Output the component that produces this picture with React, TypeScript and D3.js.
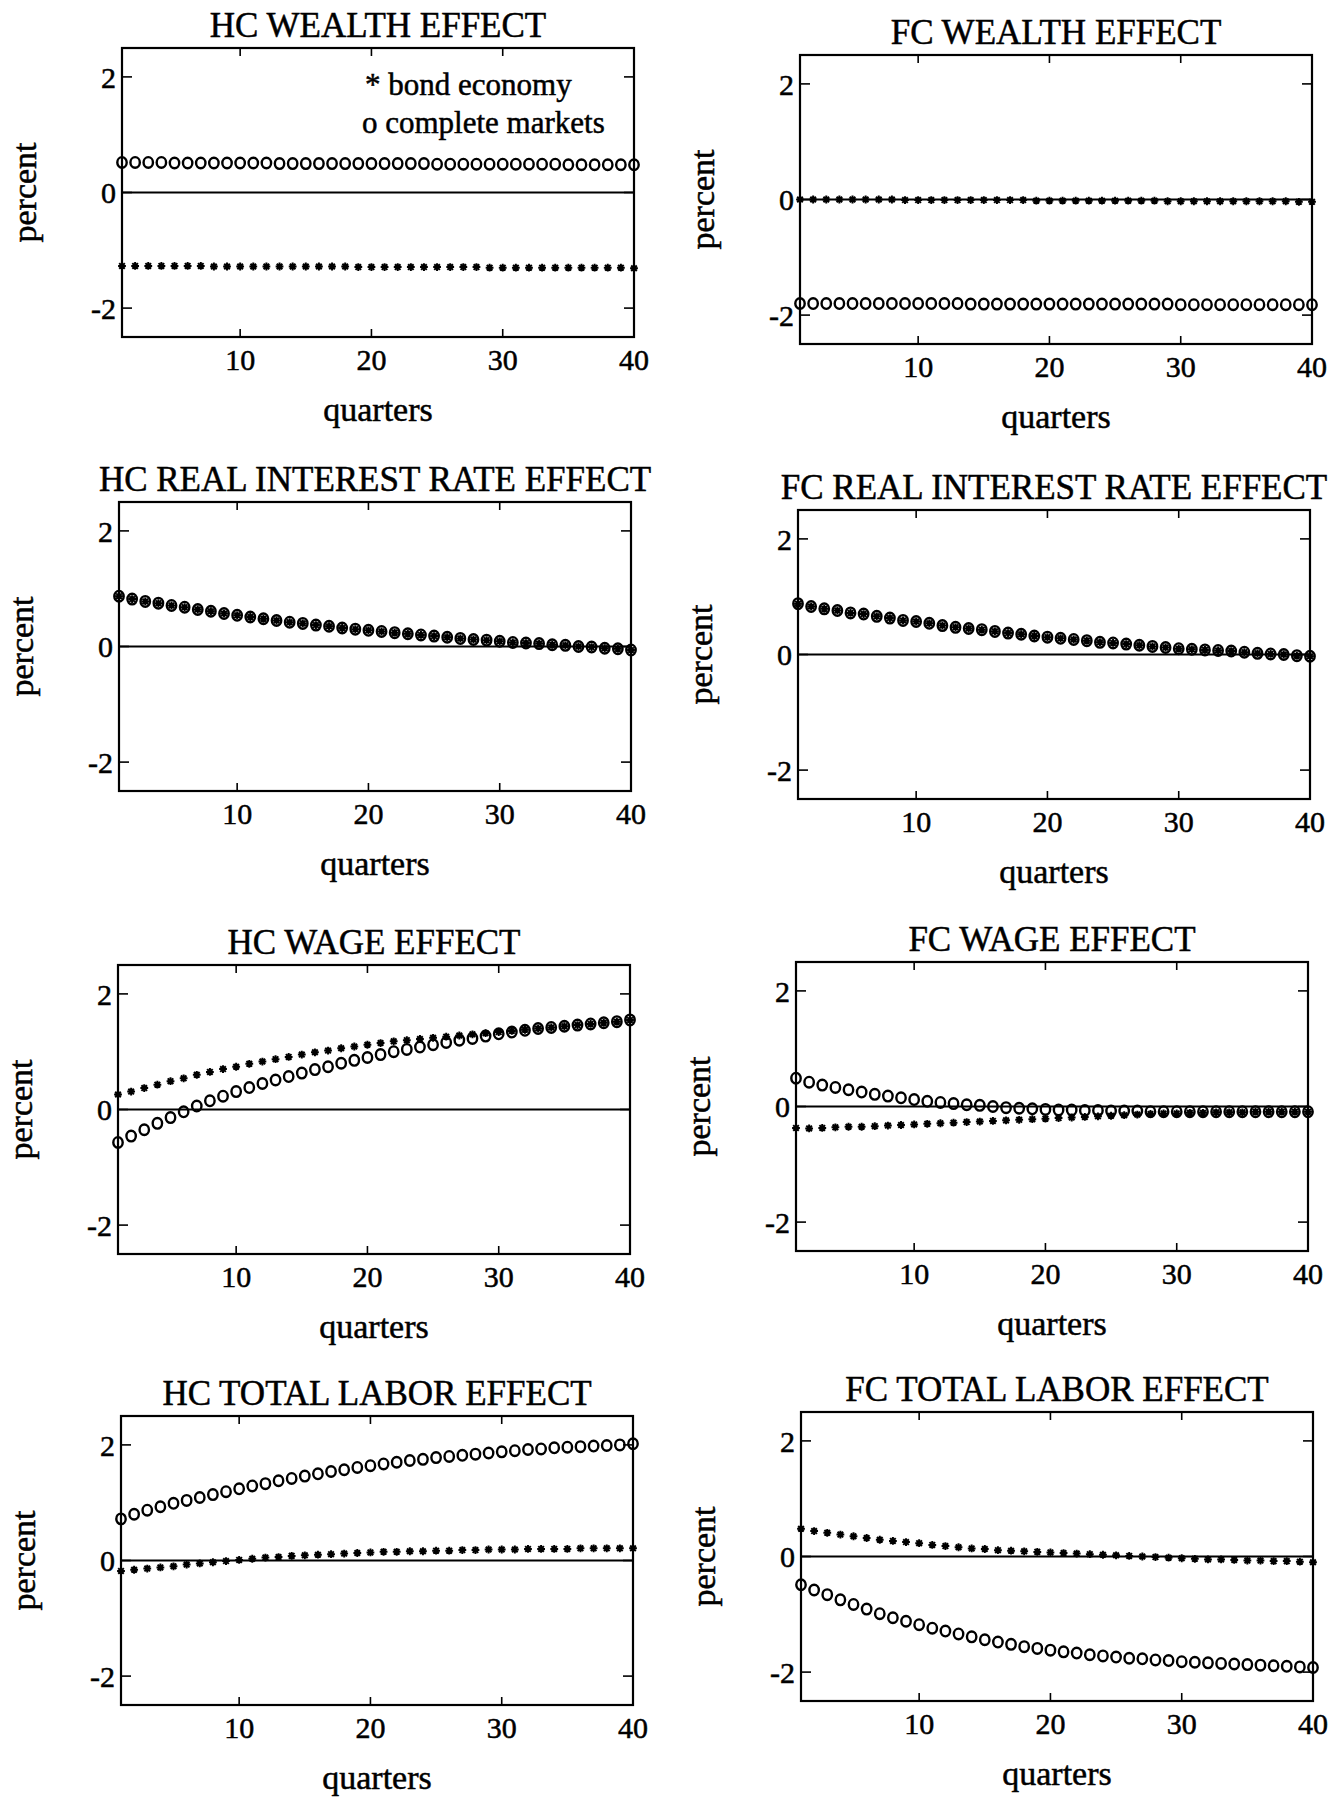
import React from "react";
import * as d3 from "d3";

// ---------- data ----------
const quarters = Array.from({ length: 40 }, (_, i) => i + 1);
const xTicks = [10, 20, 30, 40];
const yTicks = [-2, 0, 2];

const hcWealthBond = [-1.27,-1.27,-1.27,-1.27,-1.27,-1.27,-1.27,-1.28,-1.28,-1.28,-1.28,-1.28,-1.28,-1.28,-1.28,-1.28,-1.28,-1.28,-1.29,-1.29,-1.29,-1.29,-1.29,-1.29,-1.29,-1.29,-1.29,-1.29,-1.30,-1.30,-1.30,-1.30,-1.30,-1.30,-1.30,-1.30,-1.30,-1.30,-1.30,-1.31];
const hcWealthComplete = [0.52,0.52,0.52,0.52,0.51,0.51,0.51,0.51,0.51,0.51,0.51,0.51,0.50,0.50,0.50,0.50,0.50,0.50,0.50,0.50,0.50,0.50,0.50,0.50,0.49,0.49,0.49,0.49,0.49,0.49,0.49,0.49,0.49,0.49,0.48,0.48,0.48,0.48,0.48,0.48];

const fcWealthBond = [0.00,0.00,0.00,0.00,0.00,0.00,0.00,0.00,-0.01,-0.01,-0.01,-0.01,-0.01,-0.01,-0.01,-0.01,-0.01,-0.01,-0.02,-0.02,-0.02,-0.02,-0.02,-0.02,-0.02,-0.02,-0.02,-0.02,-0.03,-0.03,-0.03,-0.03,-0.03,-0.03,-0.03,-0.03,-0.03,-0.03,-0.04,-0.04];
const fcWealthComplete = [-1.80,-1.80,-1.80,-1.80,-1.80,-1.80,-1.80,-1.80,-1.80,-1.80,-1.80,-1.80,-1.80,-1.81,-1.81,-1.81,-1.81,-1.81,-1.81,-1.81,-1.81,-1.81,-1.81,-1.81,-1.81,-1.81,-1.81,-1.81,-1.81,-1.82,-1.82,-1.82,-1.82,-1.82,-1.82,-1.82,-1.82,-1.82,-1.82,-1.82];

const hcRealBond = [0.87,0.82,0.78,0.75,0.71,0.68,0.64,0.61,0.57,0.54,0.51,0.48,0.45,0.42,0.40,0.37,0.35,0.32,0.30,0.28,0.26,0.24,0.22,0.20,0.18,0.16,0.14,0.12,0.11,0.09,0.07,0.06,0.05,0.03,0.02,0.00,-0.01,-0.03,-0.04,-0.06];
const hcRealComplete = [0.87,0.82,0.78,0.75,0.71,0.68,0.64,0.61,0.57,0.54,0.51,0.48,0.45,0.42,0.40,0.37,0.35,0.32,0.30,0.28,0.26,0.24,0.22,0.20,0.18,0.16,0.14,0.12,0.11,0.09,0.07,0.06,0.05,0.03,0.02,0.00,-0.01,-0.03,-0.04,-0.06];

const fcRealBond = [0.88,0.83,0.79,0.76,0.72,0.70,0.66,0.63,0.59,0.57,0.54,0.50,0.47,0.45,0.43,0.40,0.37,0.35,0.32,0.30,0.28,0.26,0.24,0.21,0.20,0.18,0.16,0.14,0.12,0.10,0.09,0.08,0.07,0.06,0.04,0.02,0.01,0.00,-0.02,-0.03];
const fcRealComplete = [0.88,0.83,0.79,0.76,0.72,0.70,0.66,0.63,0.59,0.57,0.54,0.50,0.47,0.45,0.43,0.40,0.37,0.35,0.32,0.30,0.28,0.26,0.24,0.21,0.20,0.18,0.16,0.14,0.12,0.10,0.09,0.08,0.07,0.06,0.04,0.02,0.01,0.00,-0.02,-0.03];

const hcWageBond = [0.26,0.31,0.37,0.43,0.49,0.54,0.60,0.65,0.70,0.74,0.79,0.83,0.87,0.91,0.95,0.99,1.02,1.06,1.09,1.12,1.15,1.18,1.20,1.22,1.24,1.26,1.28,1.30,1.32,1.34,1.36,1.38,1.40,1.42,1.44,1.46,1.48,1.50,1.52,1.55];
const hcWageComplete = [-0.57,-0.46,-0.35,-0.24,-0.14,-0.04,0.06,0.15,0.23,0.31,0.38,0.45,0.51,0.57,0.63,0.69,0.74,0.80,0.85,0.90,0.95,1.00,1.04,1.08,1.12,1.16,1.20,1.23,1.27,1.31,1.34,1.37,1.40,1.42,1.44,1.46,1.48,1.50,1.52,1.55];

const fcWageBond = [-0.37,-0.38,-0.37,-0.36,-0.35,-0.35,-0.34,-0.33,-0.32,-0.31,-0.30,-0.29,-0.28,-0.27,-0.26,-0.25,-0.24,-0.23,-0.22,-0.21,-0.20,-0.19,-0.18,-0.17,-0.16,-0.15,-0.14,-0.13,-0.12,-0.12,-0.11,-0.11,-0.10,-0.10,-0.10,-0.09,-0.09,-0.09,-0.09,-0.09];
const fcWageComplete = [0.49,0.42,0.37,0.33,0.29,0.25,0.21,0.18,0.15,0.12,0.09,0.07,0.05,0.03,0.02,0.00,-0.02,-0.03,-0.04,-0.05,-0.06,-0.06,-0.07,-0.07,-0.08,-0.08,-0.08,-0.09,-0.09,-0.09,-0.09,-0.09,-0.09,-0.09,-0.09,-0.09,-0.09,-0.09,-0.09,-0.09];

const hcLaborBond = [-0.18,-0.16,-0.14,-0.12,-0.10,-0.07,-0.05,-0.03,-0.01,0.01,0.03,0.05,0.06,0.08,0.09,0.10,0.11,0.12,0.13,0.14,0.15,0.15,0.16,0.16,0.17,0.17,0.18,0.18,0.19,0.19,0.19,0.20,0.20,0.20,0.20,0.21,0.21,0.21,0.21,0.21];
const hcLaborComplete = [0.72,0.80,0.87,0.93,0.99,1.04,1.09,1.14,1.19,1.24,1.29,1.33,1.38,1.42,1.46,1.50,1.54,1.57,1.61,1.64,1.67,1.70,1.73,1.75,1.78,1.80,1.82,1.84,1.86,1.88,1.90,1.92,1.93,1.95,1.96,1.97,1.98,1.99,2.00,2.02];

const fcLaborBond = [0.48,0.44,0.41,0.38,0.35,0.32,0.29,0.27,0.25,0.23,0.20,0.18,0.16,0.14,0.13,0.11,0.10,0.09,0.08,0.07,0.06,0.05,0.04,0.03,0.02,0.01,0.00,-0.01,-0.02,-0.03,-0.04,-0.05,-0.05,-0.06,-0.07,-0.07,-0.08,-0.08,-0.09,-0.10];
const fcLaborComplete = [-0.49,-0.58,-0.66,-0.75,-0.83,-0.91,-0.99,-1.06,-1.12,-1.18,-1.24,-1.29,-1.34,-1.39,-1.44,-1.48,-1.52,-1.56,-1.59,-1.62,-1.65,-1.67,-1.70,-1.72,-1.74,-1.76,-1.77,-1.79,-1.80,-1.82,-1.83,-1.84,-1.85,-1.86,-1.87,-1.88,-1.89,-1.90,-1.91,-1.92];

const titles = [
  "HC WEALTH EFFECT", "FC WEALTH EFFECT",
  "HC REAL INTEREST RATE EFFECT", "FC REAL INTEREST RATE EFFECT",
  "HC WAGE EFFECT", "FC WAGE EFFECT",
  "HC TOTAL LABOR EFFECT", "FC TOTAL LABOR EFFECT",
];
const bondSeries = [hcWealthBond, fcWealthBond, hcRealBond, fcRealBond, hcWageBond, fcWageBond, hcLaborBond, fcLaborBond];
const completeSeries = [hcWealthComplete, fcWealthComplete, hcRealComplete, fcRealComplete, hcWageComplete, fcWageComplete, hcLaborComplete, fcLaborComplete];
const legendLabels = ["* bond economy", "o complete markets"];

// ---------- layout ----------
const W = 1343, H = 1797;
const PW = 512, PH = 289;
const origins: [number, number][] = [
  [122, 48], [800, 55],
  [119, 502], [798, 510],
  [118, 965], [796, 962],
  [121, 1416], [801, 1412],
];
const FONT = "'Liberation Serif', 'Times New Roman', serif";
const TXT = { fontFamily: FONT, fill: "#000", stroke: "#000", strokeWidth: 0.5 };

const xScale = d3.scaleLinear().domain([1, 40]).range([0, PW]);
const yScale = d3.scaleLinear().domain([-2.5, 2.5]).range([PH, 0]);

function Star({ x, y }: { x: number; y: number }) {
  const a = 3.9, b = 2.8;
  return (
    <g transform={`translate(${x},${y})`}>
      <path d={`M${-a},0H${a}M0,${-a}V${a}M${-b},${-b}L${b},${b}M${-b},${b}L${b},${-b}`} stroke="#000" strokeWidth={2} />
      <circle r={2.4} fill="#000" />
    </g>
  );
}

function Panel({ idx }: { idx: number }) {
  const [ox, oy] = origins[idx];
  const bond = bondSeries[idx];
  const complete = completeSeries[idx];
  const zeroLine = d3.line<number>().x((q) => xScale(q)).y(() => yScale(0))(quarters) || "";
  return (
    <g transform={`translate(${ox},${oy})`}>
      <text x={PW / 2} y={-11} textAnchor="middle" fontSize={35} {...TXT}>{titles[idx]}</text>
      {yTicks.map((t) => (
        <g key={"y" + t}>
          <line x1={0} x2={10} y1={yScale(t)} y2={yScale(t)} stroke="#000" strokeWidth={1.6} />
          <line x1={PW - 10} x2={PW} y1={yScale(t)} y2={yScale(t)} stroke="#000" strokeWidth={1.6} />
          <text x={-6} y={yScale(t)} dy="0.36em" textAnchor="end" fontSize={30} {...TXT}>{t}</text>
        </g>
      ))}
      {xTicks.map((t) => (
        <g key={"x" + t}>
          <line x1={xScale(t)} x2={xScale(t)} y1={PH} y2={PH - 8} stroke="#000" strokeWidth={1.6} />
          <line x1={xScale(t)} x2={xScale(t)} y1={0} y2={8} stroke="#000" strokeWidth={1.6} />
          <text x={xScale(t)} y={PH + 33} textAnchor="middle" fontSize={30} {...TXT}>{t}</text>
        </g>
      ))}
      <rect x={0} y={0} width={PW} height={PH} fill="none" stroke="#000" strokeWidth={2.2} />
      <path d={zeroLine} stroke="#000" strokeWidth={2.2} fill="none" />
      {quarters.map((q, i) => (
        <ellipse key={"c" + q} cx={xScale(q)} cy={yScale(complete[i])} rx={4.7} ry={5.3} fill="none" stroke="#000" strokeWidth={2.4} />
      ))}
      {quarters.map((q, i) => (
        <Star key={"s" + q} x={xScale(q)} y={yScale(bond[i])} />
      ))}
      <text x={PW / 2} y={PH + 84} textAnchor="middle" fontSize={34} {...TXT}>quarters</text>
      <text transform={`translate(-86,${PH / 2}) rotate(-90)`} textAnchor="middle" fontSize={34} {...TXT}>percent</text>
      {idx === 0 && (
        <g fontSize={31}>
          <text x={243} y={47} {...TXT}>{legendLabels[0]}</text>
          <text x={240} y={85} {...TXT}>{legendLabels[1]}</text>
        </g>
      )}
    </g>
  );
}

export default function App() {
  return (
    <svg width={W} height={H} style={{ position: "absolute", left: 0, top: 0, background: "#fff" }}>
      <rect width={W} height={H} fill="#fff" />
      {titles.map((_, i) => (
        <Panel key={i} idx={i} />
      ))}
    </svg>
  );
}
